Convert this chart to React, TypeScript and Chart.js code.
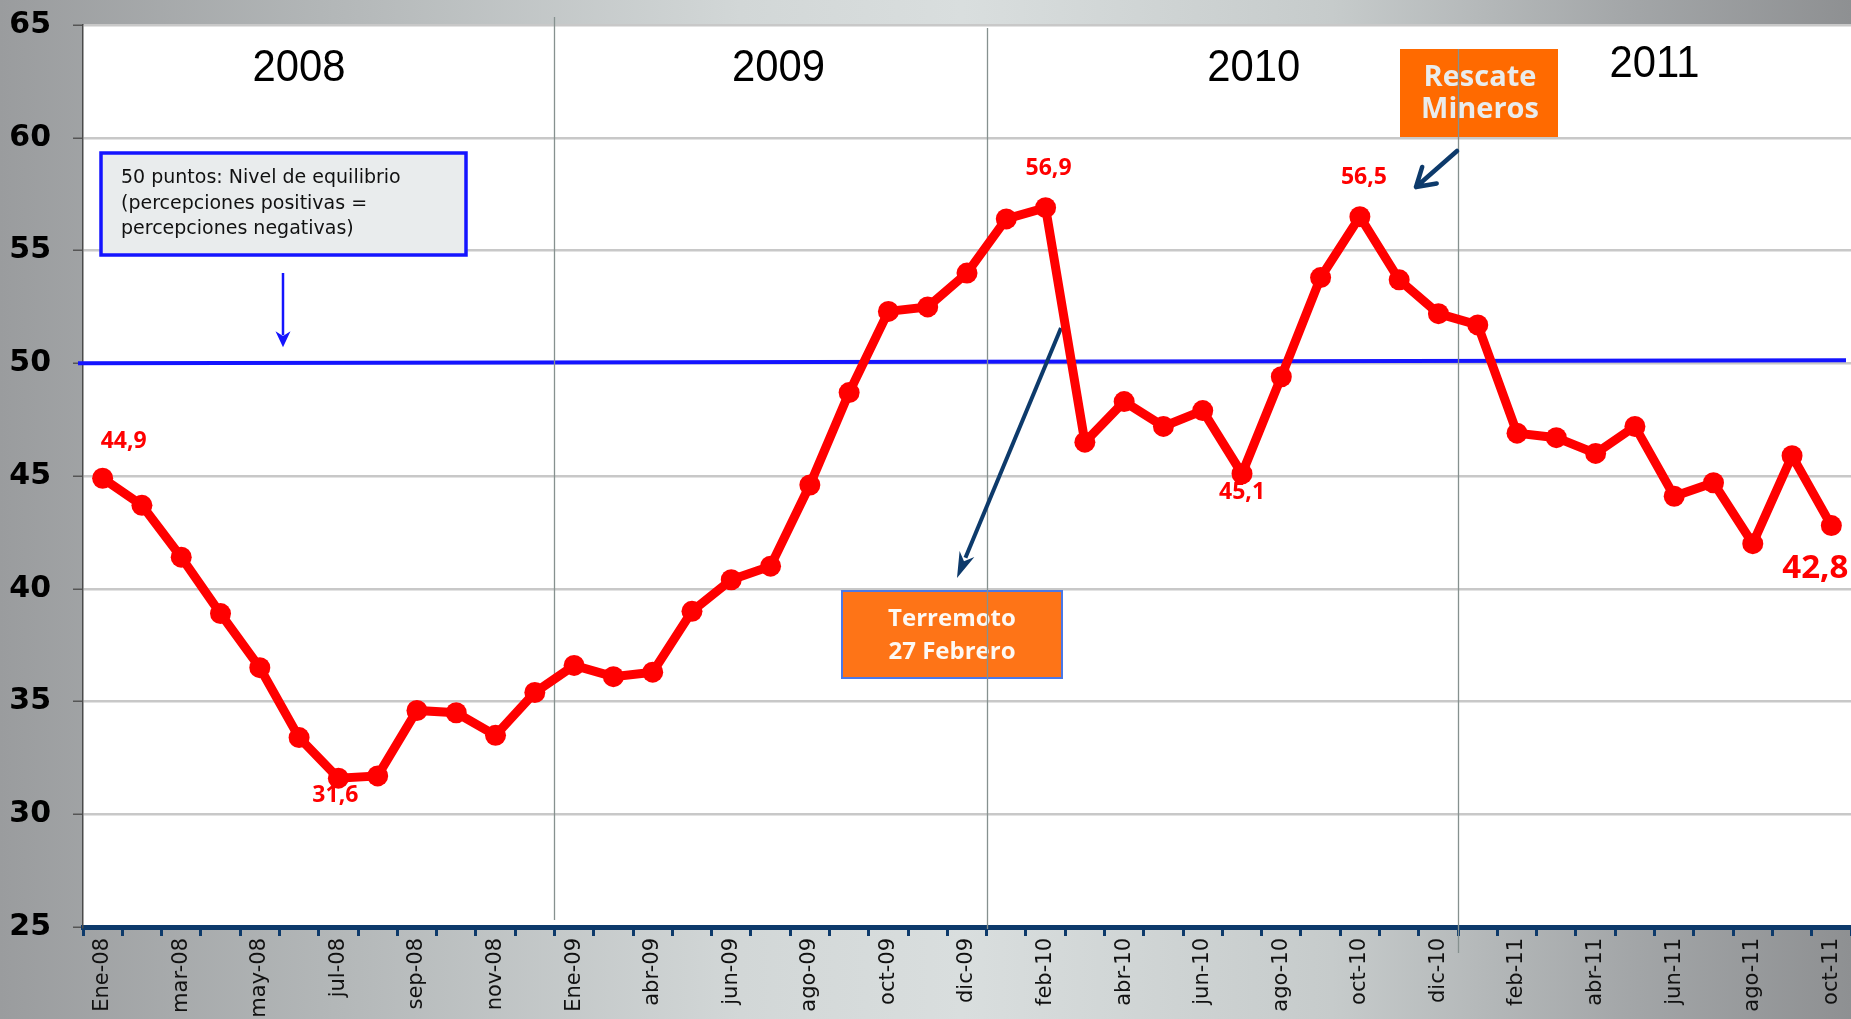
import React, { useEffect, useRef } from 'react';
import { Chart, registerables } from 'chart.js';

Chart.register(...registerables);

// ---------- DATA ----------
const categories: string[] = [
  'Ene-08', 'feb-08', 'mar-08', 'abr-08', 'may-08', 'jun-08', 'jul-08', 'ago-08', 'sep-08', 'oct-08', 'nov-08', 'dic-08',
  'Ene-09', 'mar-09', 'abr-09', 'may-09', 'jun-09', 'jul-09', 'ago-09', 'sep-09', 'oct-09', 'nov-09', 'dic-09',
  'Ene-10', 'feb-10', 'mar-10', 'abr-10', 'may-10', 'jun-10', 'jul-10', 'ago-10', 'sep-10', 'oct-10', 'nov-10', 'dic-10',
  'Ene-11', 'feb-11', 'mar-11', 'abr-11', 'may-11', 'jun-11', 'jul-11', 'ago-11', 'sep-11', 'oct-11',
];

const values2008: number[] = [44.9, 43.7, 41.4, 38.9, 36.5, 33.4, 31.6, 31.7, 34.6, 34.5, 33.5, 35.4];
const values2009: number[] = [36.6, 36.1, 36.3, 39.0, 40.4, 41.0, 44.6, 48.7, 52.3, 52.5, 54.0];
const values2010: number[] = [56.4, 56.9, 46.5, 48.3, 47.2, 47.9, 45.1, 49.4, 53.8, 56.5, 53.7, 52.2];
const values2011: number[] = [51.7, 46.9, 46.7, 46.0, 47.2, 44.1, 44.7, 42.0, 45.9, 42.8];

const seriesValues: number[] = [...values2008, ...values2009, ...values2010, ...values2011];

const yTicks: number[] = [25, 30, 35, 40, 45, 50, 55, 60, 65];
const equilibrium = 50;

const yearLabels: string[] = ['2008', '2009', '2010', '2011'];
const yearCenters: number[] = [5.0, 17.2, 29.3, 39.5]; // in category units
const yearLevels: number[] = [63.05, 63.05, 63.05, 63.25]; // in value units
const yearBoundaries: number[] = [11.5, 22.5, 34.5]; // between categories

// indices of points that carry a value label
const labelledIndices: number[] = [0, 6, 24, 29, 32, 44];

// ---------- STYLE ----------
const NAVY = '#0d3a6b';
const RED = '#ff0000';
const BLUE = '#1414ff';

const labelStyles: { dx: number; dy: number; size: number }[] = [
  { dx: 21, dy: -37, size: 23 },
  { dx: -3, dy: 17, size: 23 },
  { dx: 3, dy: -39, size: 23 },
  { dx: 0, dy: 19, size: 23 },
  { dx: 4, dy: -39, size: 23 },
  { dx: -16, dy: 43, size: 33 },
];

const fmt = (v: number) => v.toFixed(1).replace('.', ',');

function drawStealthArrow(ctx: CanvasRenderingContext2D, x1: number, y1: number, x2: number, y2: number, color: string, width: number, headLen: number, headW: number) {
  const ang = Math.atan2(y2 - y1, x2 - x1);
  const cos = Math.cos(ang), sin = Math.sin(ang);
  const bx = x2 - cos * headLen, by = y2 - sin * headLen;
  ctx.save();
  ctx.strokeStyle = color;
  ctx.fillStyle = color;
  ctx.lineWidth = width;
  ctx.lineCap = 'butt';
  ctx.beginPath();
  ctx.moveTo(x1, y1);
  ctx.lineTo(bx + cos * 4, by + sin * 4);
  ctx.stroke();
  const nx = -sin, ny = cos;
  ctx.beginPath();
  ctx.moveTo(x2, y2);
  ctx.lineTo(bx + nx * headW / 2, by + ny * headW / 2);
  ctx.lineTo(bx + cos * headLen * 0.3, by + sin * headLen * 0.3);
  ctx.lineTo(bx - nx * headW / 2, by - ny * headW / 2);
  ctx.closePath();
  ctx.fill();
  ctx.restore();
}

function drawVArrow(ctx: CanvasRenderingContext2D, x1: number, y1: number, x2: number, y2: number, color: string, width: number, armLen: number) {
  const ang = Math.atan2(y2 - y1, x2 - x1);
  ctx.save();
  ctx.strokeStyle = color;
  ctx.lineWidth = width;
  ctx.lineCap = 'round';
  ctx.lineJoin = 'round';
  ctx.beginPath();
  ctx.moveTo(x1, y1);
  ctx.lineTo(x2, y2);
  const a1 = ang + Math.PI - 0.55;
  const a2 = ang + Math.PI + 0.55;
  ctx.moveTo(x2 + Math.cos(a1) * armLen, y2 + Math.sin(a1) * armLen);
  ctx.lineTo(x2, y2);
  ctx.lineTo(x2 + Math.cos(a2) * armLen, y2 + Math.sin(a2) * armLen);
  ctx.stroke();
  ctx.restore();
}

const decorPlugin = {
  id: 'decor',
  beforeDraw(chart: any) {
    const { ctx, chartArea: a } = chart;
    ctx.save();
    ctx.fillStyle = '#ffffff';
    ctx.fillRect(a.left, a.top, a.right - a.left, a.bottom - a.top);
    ctx.restore();
  },
  beforeDatasetsDraw(chart: any) {
    const { ctx, chartArea: a } = chart;
    const xs = chart.scales.x;
    const ys = chart.scales.y;

    // year labels (slightly condensed)
    ctx.save();
    ctx.fillStyle = '#000';
    ctx.font = '44px "Liberation Sans", Arial, sans-serif';
    ctx.textAlign = 'center';
    ctx.textBaseline = 'middle';
    yearLabels.forEach((t, i) => {
      const px = xs.getPixelForValue(yearCenters[i]);
      const py = ys.getPixelForValue(yearLevels[i]);
      ctx.save();
      ctx.translate(px, py);
      ctx.scale(0.95, 1);
      ctx.fillText(t, 0, 0);
      ctx.restore();
    });
    ctx.restore();

    // info box
    ctx.save();
    ctx.fillStyle = '#e9eced';
    ctx.fillRect(101, 153, 365, 102);
    ctx.strokeStyle = BLUE;
    ctx.lineWidth = 3.5;
    ctx.strokeRect(101, 153, 365, 102);
    ctx.fillStyle = '#111';
    ctx.font = '19px "DejaVu Sans", sans-serif';
    ctx.textAlign = 'left';
    ctx.textBaseline = 'middle';
    ctx.fillText('50 puntos: Nivel de equilibrio', 121, 178);
    ctx.fillText('(percepciones positivas =', 121, 204);
    ctx.fillText('percepciones negativas)', 121, 229);
    ctx.restore();

    // blue arrow down to 50 line
    const y50 = ys.getPixelForValue(equilibrium);
    drawStealthArrow(ctx, 283, 273, 283, y50 - 16, BLUE, 2.5, 16, 15);

    // equilibrium line
    ctx.save();
    ctx.strokeStyle = BLUE;
    ctx.lineWidth = 4;
    ctx.beginPath();
    ctx.moveTo(a.left - 5, y50);
    ctx.lineTo(a.right - 5, y50 - 3);
    ctx.stroke();
    ctx.restore();

    // Terremoto box
    ctx.save();
    ctx.fillStyle = '#fe7417';
    ctx.fillRect(842, 591, 220, 87);
    ctx.strokeStyle = '#4a78e8';
    ctx.lineWidth = 2;
    ctx.strokeRect(842, 591, 220, 87);
    ctx.fillStyle = '#fdf9f4';
    ctx.font = 'bold 24px "Open Sans", "Liberation Sans", sans-serif';
    ctx.textAlign = 'center';
    ctx.textBaseline = 'middle';
    ctx.fillText('Terremoto', 952, 619);
    ctx.fillText('27 Febrero', 952, 652);
    ctx.restore();

    // Rescate box
    ctx.save();
    ctx.fillStyle = '#ff6a00';
    ctx.fillRect(1400, 49, 158, 88);
    ctx.fillStyle = '#e9ecec';
    ctx.font = 'bold 29px "Open Sans", "Liberation Sans", sans-serif';
    ctx.textAlign = 'center';
    ctx.textBaseline = 'middle';
    ctx.fillText('Rescate', 1480, 78);
    ctx.fillText('Mineros', 1480, 110);
    ctx.restore();

    // year boundary lines
    ctx.save();
    ctx.strokeStyle = '#86918f';
    ctx.lineWidth = 1.3;
    const spans = [[a.top - 8, a.bottom - 7], [a.top + 3, a.bottom + 2], [a.top + 24, a.bottom + 26]];
    yearBoundaries.forEach((b, i) => {
      const x = Math.round(xs.getPixelForValue(b)) + 0.5;
      ctx.beginPath();
      ctx.moveTo(x, spans[i][0]);
      ctx.lineTo(x, spans[i][1]);
      ctx.stroke();
    });
    ctx.restore();

    // navy arrows
    drawStealthArrow(ctx, 1061, 328, 957, 578, NAVY, 4, 26, 16);
    drawVArrow(ctx, 1457, 151, 1416, 187, NAVY, 4.5, 21);
  },
  afterDatasetsDraw(chart: any) {
    const { ctx } = chart;
    const meta = chart.getDatasetMeta(0);
    ctx.save();
    ctx.fillStyle = RED;
    ctx.textAlign = 'center';
    ctx.textBaseline = 'middle';
    labelledIndices.forEach((idx, k) => {
      const p = meta.data[idx];
      const st = labelStyles[k];
      ctx.font = `bold ${st.size}px "Open Sans", "Liberation Sans", sans-serif`;
      ctx.fillText(fmt(seriesValues[idx]), p.x + st.dx, p.y + st.dy);
    });
    ctx.restore();
  },
};

export default function App() {
  const canvasRef = useRef<HTMLCanvasElement | null>(null);

  useEffect(() => {
    document.body.style.margin = '0';
    const canvas = canvasRef.current;
    if (!canvas) return;
    const chart = new Chart(canvas, {
      type: 'line',
      data: {
        labels: categories,
        datasets: [
          {
            data: seriesValues,
            borderColor: RED,
            backgroundColor: RED,
            borderWidth: 9,
            pointRadius: 10.5,
            pointBackgroundColor: RED,
            pointBorderColor: RED,
            pointBorderWidth: 0,
            tension: 0,
            clip: false as any,
          },
        ],
      },
      options: {
        responsive: false,
        animation: false,
        devicePixelRatio: 1,
        layout: { autoPadding: false, padding: { top: 25, right: 0, left: 0, bottom: 0 } },
        plugins: { legend: { display: false }, tooltip: { enabled: false } },
        scales: {
          x: {
            type: 'category',
            offset: true,
            grid: {
              display: true,
              drawOnChartArea: false,
              drawTicks: true,
              tickLength: 9,
              tickColor: NAVY,
              tickWidth: 3,
              offset: true,
            },
            border: { display: true, color: NAVY, width: 5 },
            ticks: {
              autoSkip: false,
              maxRotation: 90,
              minRotation: 90,
              padding: 2,
              color: '#111',
              font: { family: '"DejaVu Sans", sans-serif', size: 21 },
              callback: (_v: any, i: number) => (i % 2 === 0 ? categories[i] : ''),
            },
            afterFit: (s: any) => {
              s.height = 92;
              s.paddingLeft = 0;
              s.paddingRight = 0;
            },
          },
          y: {
            min: yTicks[0],
            max: yTicks[yTicks.length - 1],
            afterBuildTicks: (s: any) => {
              s.ticks = yTicks.map((v) => ({ value: v }));
            },
            ticks: {
              padding: 22,
              color: '#000',
              font: { family: '"DejaVu Sans", sans-serif', size: 30, weight: 'bold' },
            },
            grid: {
              color: '#c8c8c8',
              lineWidth: 2.5,
              tickLength: 10,
              tickColor: '#555',
              tickWidth: 1.5,
            },
            border: { display: true, color: '#4a4a4a', width: 1.5 },
            afterFit: (s: any) => {
              s.width = 83;
              s.paddingTop = 0;
              s.paddingBottom = 0;
            },
          },
        },
      } as any,
      plugins: [decorPlugin],
    });
    return () => chart.destroy();
  }, []);

  return (
    <div
      style={{
        position: 'fixed',
        left: 0,
        top: 0,
        width: 1851,
        height: 1019,
        background:
          'linear-gradient(90deg, #9a9c9e 0%, #b3b7b8 18%, #d2d7d7 40%, #d9dede 52%, #c6cbcb 72%, #a3a6a8 88%, #8e9092 100%)',
      }}
    >
      <canvas ref={canvasRef} width={1851} height={1019} style={{ display: 'block', width: 1851, height: 1019 }} />
    </div>
  );
}
